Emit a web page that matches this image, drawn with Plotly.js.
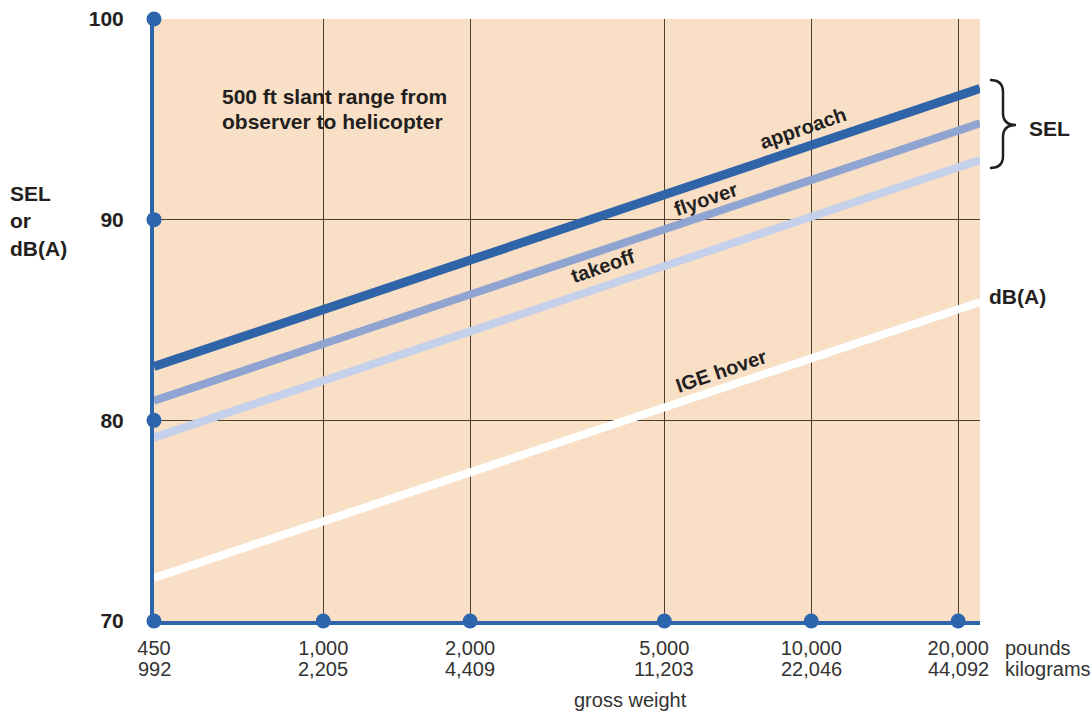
<!DOCTYPE html>
<html>
<head>
<meta charset="utf-8">
<script src="https://cdn.plot.ly/plotly-3.0.1.min.js"></script>
<style>html,body{margin:0;padding:0;background:#fff;}#chart{width:1092px;height:716px;}</style>
</head>
<body>
<div id="chart"></div>
<script>
// ---- data ----
const tickPounds = [450, 1000, 2000, 5000, 10000, 20000];
const tickPoundLabels = ['450', '1,000', '2,000', '5,000', '10,000', '20,000'];
const tickKgLabels = ['992', '2,205', '4,409', '11,203', '22,046', '44,092'];
const yTicks = [70, 80, 90, 100];
const yGrid = [80, 90];
const lineWeights = [450, 22170];
const approach = [82.68, 96.54];
const flyover = [80.98, 94.80];
const takeoff = [79.14, 92.97];
const igeHover = [72.15, 85.90];

// ---- layout geometry ----
const W = 1092, H = 716, ML = 154, MR = 112, MT = 19, MB = 95;
const PW = W - ML - MR, PH = H - MT - MB;
const fx = px => (px - ML) / PW;
const fy = py => (H - MB - py) / PH;
const xRange = [Math.log10(lineWeights[0]), Math.log10(lineWeights[1])];

const FONT = 'Liberation Sans, Arial, sans-serif';
const DARK = '#231f20';
const BLUE = '#2c65ab';
const GREY = '#333333';

const dotX = yTicks.map(() => tickPounds[0]).concat(tickPounds.slice(1));
const dotY = yTicks.slice().concat(tickPounds.slice(1).map(() => yTicks[0]));

const traces = [
  {x: lineWeights, y: igeHover, mode: 'lines', line: {color: '#ffffff', width: 8}, hoverinfo: 'skip'},
  {x: lineWeights, y: takeoff, mode: 'lines', line: {color: '#c5d0ea', width: 8}, hoverinfo: 'skip'},
  {x: lineWeights, y: flyover, mode: 'lines', line: {color: '#8fa4d0', width: 8}, hoverinfo: 'skip'},
  {x: lineWeights, y: approach, mode: 'lines', line: {color: '#2f64a9', width: 9}, hoverinfo: 'skip'},
  {x: dotX, y: dotY, yaxis: 'y2', mode: 'markers', cliponaxis: false,
   marker: {color: BLUE, size: 15}, hoverinfo: 'skip'}
];

function brace() {
  const xe = 990, xs = 1003, xt = 1016, yt = 80, ym = 125, yb = 168, r = 12;
  const p = (x, y) => fx(x).toFixed(5) + ' ' + fy(y).toFixed(5);
  return 'M ' + p(xe, yt) + ' Q ' + p(xs, yt) + ' ' + p(xs, yt + r) +
    ' L ' + p(xs, ym - r) + ' Q ' + p(xs, ym) + ' ' + p(xt, ym) +
    ' Q ' + p(xs, ym) + ' ' + p(xs, ym + r) +
    ' L ' + p(xs, yb - r) + ' Q ' + p(xs, yb) + ' ' + p(xe, yb);
}

function ann(text, px, py, opts) {
  return Object.assign({
    text: text, xref: 'paper', yref: 'paper', x: fx(px), y: fy(py),
    xanchor: 'center', yanchor: 'middle', showarrow: false,
    font: {family: FONT, size: 20, color: DARK, weight: 'bold'}
  }, opts || {});
}

const BOLD21 = {family: FONT, size: 21, color: DARK, weight: 'bold'};
const REG20 = {family: FONT, size: 20, color: GREY};

const annotations = [
  ann('500 ft slant range from', 220, 97, {xanchor: 'left', font: BOLD21}),
  ann('observer to helicopter', 220, 121, {xanchor: 'left', font: BOLD21}),
  ann('approach', 803, 128, {textangle: -19}),
  ann('flyover', 706, 199, {textangle: -19}),
  ann('takeoff', 603, 266, {textangle: -19}),
  ann('IGE hover', 721, 371, {textangle: -19}),
  ann('dB(A)', 987, 296, {xanchor: 'left', font: BOLD21}),
  ann('SEL', 1027, 128, {xanchor: 'left', font: BOLD21}),
  ann('SEL<br>or<br>dB(A)', 8, 221, {xanchor: 'left', align: 'left', font: BOLD21}),
  ann('pounds', 1003, 648, {xanchor: 'left', font: REG20}),
  ann('kilograms', 1003, 669, {xanchor: 'left', font: REG20}),
  ann('gross weight', 630, 700, {font: REG20})
].concat(tickPounds.map((w, i) => ({
  text: tickKgLabels[i], xref: 'x', yref: 'paper', x: Math.log10(w), y: fy(669),
  xanchor: 'center', yanchor: 'middle', showarrow: false, font: REG20
})));

const layout = {
  width: W, height: H,
  margin: {l: ML, r: MR, t: MT, b: MB, pad: 0},
  paper_bgcolor: '#ffffff',
  plot_bgcolor: '#f8dfc6',
  showlegend: false,
  xaxis: {
    type: 'log', range: xRange, tickmode: 'array', tickvals: tickPounds, ticktext: tickPoundLabels,
    showgrid: true, gridcolor: '#4d3e30', gridwidth: 1.3, zeroline: false,
    showline: true, linecolor: BLUE, linewidth: 4, ticks: '', ticklabelstandoff: 6,
    tickfont: REG20, fixedrange: true
  },
  yaxis: {
    range: [yTicks[0], yTicks[yTicks.length - 1]], tickmode: 'array', tickvals: yTicks,
    showgrid: false, zeroline: false, showline: true, linecolor: BLUE, linewidth: 4,
    ticks: '', ticklabelstandoff: 22,
    tickfont: BOLD21, fixedrange: true
  },
  yaxis2: {
    range: [yTicks[0], yTicks[yTicks.length - 1]], overlaying: 'y', anchor: 'x', side: 'left',
    tickmode: 'array', tickvals: yGrid, showticklabels: false, ticks: '',
    showgrid: true, gridcolor: '#4d3e30', gridwidth: 1.3, zeroline: false, showline: false, fixedrange: true
  },
  shapes: [
    {type: 'path', xref: 'paper', yref: 'paper', path: brace(), line: {color: DARK, width: 2.5}}
  ],
  annotations: annotations
};

Plotly.newPlot('chart', traces, layout, {displayModeBar: false, staticPlot: true});
</script>
</body>
</html>
